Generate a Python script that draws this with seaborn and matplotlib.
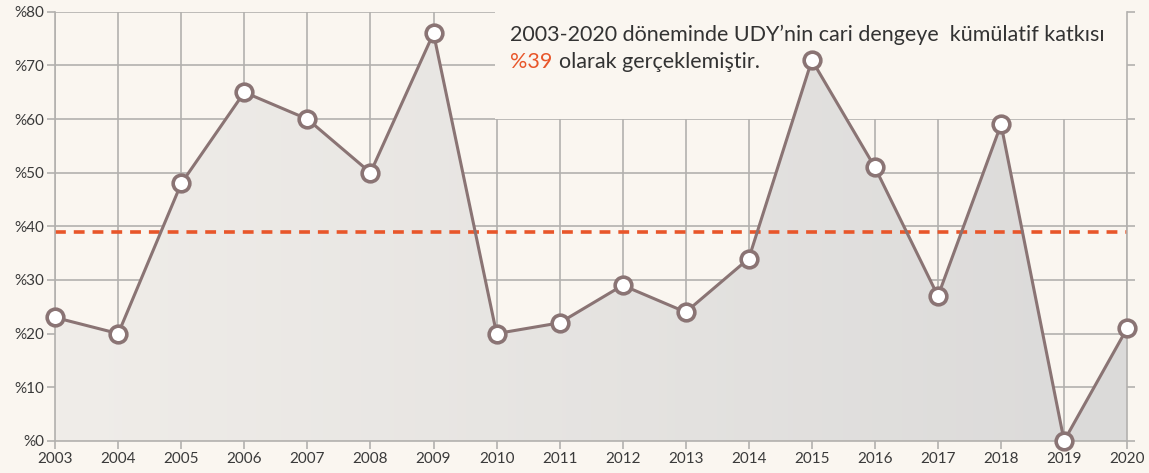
import numpy as np
import pandas as pd
import seaborn as sns
import matplotlib
matplotlib.use("Agg")
import matplotlib.pyplot as plt
from matplotlib.patches import Rectangle

years = [2003, 2004, 2005, 2006, 2007, 2008, 2009, 2010, 2011, 2012,
         2013, 2014, 2015, 2016, 2017, 2018, 2019, 2020]
share = [23, 20, 48, 65, 60, 50, 76, 20, 22, 29, 24, 34, 71, 51, 27, 59, 0, 21]
avg_share = 39
yticks = [0, 10, 20, 30, 40, 50, 60, 70, 80]

bg = "#FAF6F0"
line_col = "#8A7474"
grid_col = "#B3B1AE"
orange = "#E8562A"

sns.set_theme(style="white")
plt.rcParams["font.family"] = ["Lato", "DejaVu Sans"]

df = pd.DataFrame({"year": years, "share": share})

fig = plt.figure(figsize=(11.49, 4.73), dpi=100, facecolor=bg)
ax = fig.add_axes([0.048, 0.068, 0.933, 0.907])
ax.set_facecolor(bg)

ax.set_xlim(2003, 2020)
ax.set_ylim(0, 80)
ax.set_xticks(years)
ax.set_yticks(yticks)
ax.grid(True, color=grid_col, linewidth=1.2, zorder=0)
ax.set_axisbelow(True)

# text box covering the grid (below the area fill)
ax.add_patch(Rectangle((2009.98, 60), 10.02, 20, facecolor=bg, edgecolor="none", zorder=0.8))

# gradient fill under the line
poly = ax.fill_between(df["year"], df["share"], 0, color="none", zorder=1)
grad = np.linspace(0, 1, 256).reshape(1, -1)
img = ax.imshow(grad, extent=[2003, 2020, 0, 80], aspect="auto",
                cmap=matplotlib.colors.LinearSegmentedColormap.from_list(
                    "g", ["#F0EDE9", "#DBDAD9"]), zorder=1)
img.set_clip_path(poly.get_paths()[0], transform=ax.transData)

ax.axhline(avg_share, color=orange, linestyle=(0, (3, 2.2)), linewidth=2.6, zorder=2)

sns.lineplot(data=df, x="year", y="share", ax=ax, color=line_col, linewidth=2.2,
             marker="o", markersize=12, markerfacecolor="white",
             markeredgecolor=line_col, markeredgewidth=2.6, zorder=3, clip_on=False)

ax.text(2010.22, 75.7, "2003-2020 döneminde UDY’nin cari dengeye  kümülatif katkısı",
        fontsize=15.5, color="#333333", va="center", ha="left", zorder=4)
t39 = ax.text(2010.22, 70.7, "%39", fontsize=15.5, color=orange, va="center",
              ha="left", zorder=4)
ax.annotate("olarak gerçeklemiştir.", xy=(1, 0), xycoords=t39, xytext=(4.5, 0),
            textcoords="offset points", fontsize=15.5, color="#333333",
            va="bottom", ha="left", zorder=4)

ax.set_yticklabels([f"%{v}" for v in yticks])
ax.set_xlabel("")
ax.set_ylabel("")
ax.tick_params(axis="both", labelsize=11, colors=grid_col, labelcolor="#3A3A3A",
               length=6, width=1.2, direction="out")
ax.tick_params(axis="y", pad=2, left=True, right=True)
ax.tick_params(axis="x", pad=2, bottom=True)

ax.spines["top"].set_visible(False)
for side in ["left", "right", "bottom"]:
    ax.spines[side].set_visible(True)
    ax.spines[side].set_color(grid_col)
    ax.spines[side].set_linewidth(1.2)

fig.savefig("out.png", dpi=100, facecolor=bg)
